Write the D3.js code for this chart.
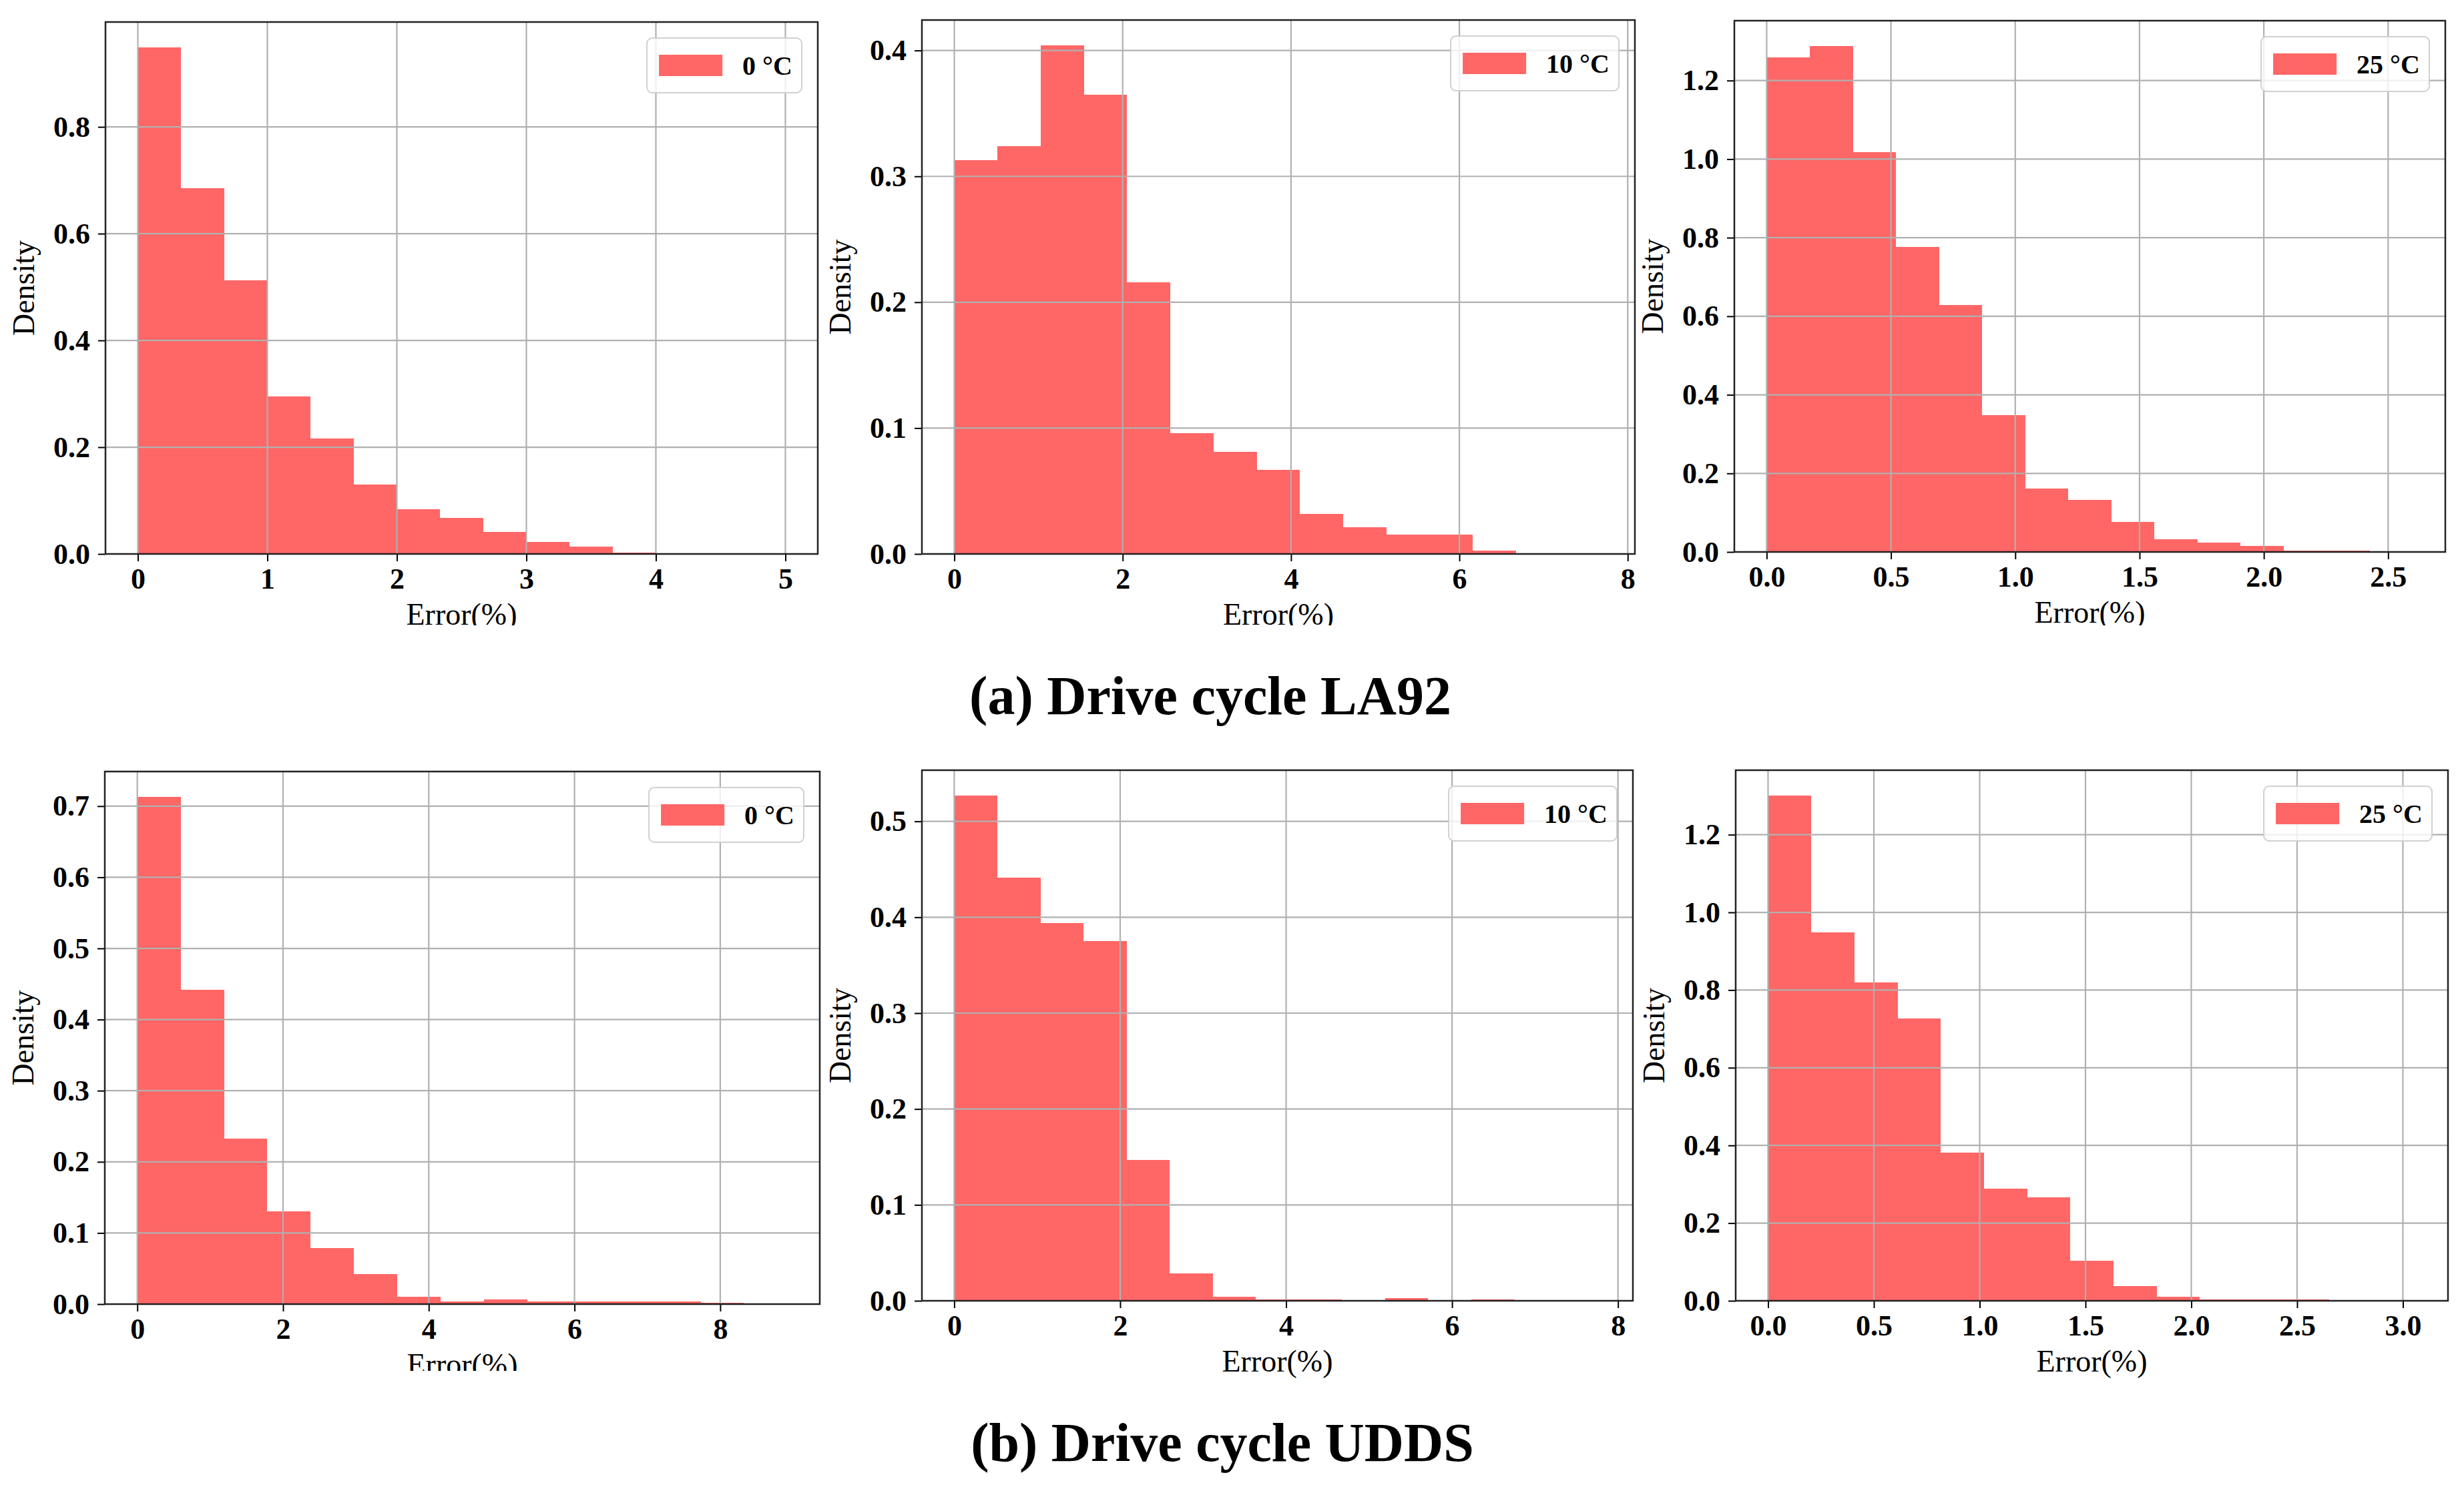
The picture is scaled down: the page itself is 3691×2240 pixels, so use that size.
<!DOCTYPE html>
<html>
<head>
<meta charset="utf-8">
<script src="https://cdn.jsdelivr.net/npm/d3@7"></script>
<style>
  body { margin: 0; background: #fff; }
  text { font-family: "Liberation Serif", "Times New Roman", serif; }
</style>
</head>
<body>
<svg id="fig" width="3691" height="2240"></svg>
<script>
// Textos
const temperaturas = ['0 °C', '10 °C', '25 °C'];
const titulos = ['(a) Drive cycle LA92', '(b) Drive cycle UDDS'];

// Densidade por bin (15 bins de 0 até o erro máximo)
const la92_0C  = [0.949, 0.685, 0.513, 0.295, 0.216, 0.130, 0.084, 0.068, 0.041, 0.022, 0.014, 0.002, 0, 0, 0.0006];
const la92_10C = [0.313, 0.324, 0.404, 0.365, 0.216, 0.096, 0.081, 0.067, 0.032, 0.021, 0.0155, 0.0155, 0.0026, 0, 0.0005];
const la92_25C = [1.259, 1.288, 1.018, 0.776, 0.629, 0.348, 0.161, 0.132, 0.077, 0.033, 0.023, 0.0155, 0.004, 0.004, 0.0005];
const udds_0C  = [0.713, 0.442, 0.233, 0.130, 0.079, 0.0424, 0.0103, 0.004, 0.0063, 0.004, 0.004, 0.004, 0.004, 0.002, 0.0005];
const udds_10C = [0.527, 0.441, 0.394, 0.375, 0.147, 0.0285, 0.0043, 0.0017, 0.0017, 0, 0.003, 0, 0.0017, 0, 0.0005];
const udds_25C = [1.301, 0.949, 0.820, 0.727, 0.381, 0.288, 0.266, 0.103, 0.037, 0.0105, 0.004, 0.004, 0.004, 0, 0.0005];

// Erro máximo de cada histograma (%)
const errMax_la92 = [5.0, 7.7, 2.6];
const errMax_udds = [8.92, 7.79, 3.06];

// Ticks
const xt_la92 = [[0, 1, 2, 3, 4, 5], [0, 2, 4, 6, 8], [0, 0.5, 1, 1.5, 2, 2.5]];
const yt_la92 = [[0, 0.2, 0.4, 0.6, 0.8], [0, 0.1, 0.2, 0.3, 0.4], [0, 0.2, 0.4, 0.6, 0.8, 1.0, 1.2]];
const xt_udds = [[0, 2, 4, 6, 8], [0, 2, 4, 6, 8], [0, 0.5, 1, 1.5, 2, 2.5, 3]];
const yt_udds = [[0, 0.1, 0.2, 0.3, 0.4, 0.5, 0.6, 0.7], [0, 0.1, 0.2, 0.3, 0.4, 0.5], [0, 0.2, 0.4, 0.6, 0.8, 1.0, 1.2]];

const svg = d3.select('#fig');
svg.append('rect').attr('width', 3691).attr('height', 2240).attr('fill', '#fff');

const corBarra = '#ff6666';
const corGrade = '#b0b0b0';
const fmtInt = d3.format('d');
const fmt1 = d3.format('.1f');

let nClip = 0;

function painel(cfg) {
  const [x0, y0, x1, y1] = cfg.box;
  const n = cfg.dens.length;
  const w = cfg.errMax / n;
  const bins = cfg.dens.map((d, k) => ({ a: k * w, b: (k + 1) * w, d: d }));

  const x = d3.scaleLinear().domain([-0.05 * cfg.errMax, 1.05 * cfg.errMax]).range([x0, x1]);
  const y = d3.scaleLinear().domain([0, 1.05 * d3.max(cfg.dens)]).range([y1, y0]);

  const g = svg.append('g');

  // barras
  g.selectAll('rect.barra').data(bins).enter().append('rect')
    .attr('class', 'barra')
    .attr('x', d => x(d.a))
    .attr('width', d => x(d.b) - x(d.a))
    .attr('y', d => y(d.d))
    .attr('height', d => y(0) - y(d.d))
    .attr('fill', corBarra)
    .attr('shape-rendering', 'crispEdges');

  // grade (por cima das barras, como no matplotlib)
  g.selectAll('line.gx').data(cfg.xt).enter().append('line')
    .attr('x1', d => x(d)).attr('x2', d => x(d))
    .attr('y1', y0).attr('y2', y1)
    .attr('stroke', corGrade).attr('stroke-width', 2.2);
  g.selectAll('line.gy').data(cfg.yt).enter().append('line')
    .attr('y1', d => y(d)).attr('y2', d => y(d))
    .attr('x1', x0).attr('x2', x1)
    .attr('stroke', corGrade).attr('stroke-width', 2.2);

  // eixos
  const eixoX = g.append('g').attr('transform', `translate(0,${y1})`)
    .call(d3.axisBottom(x).tickValues(cfg.xt).tickFormat(cfg.xfmt).tickSize(11).tickPadding(10));
  const eixoY = g.append('g').attr('transform', `translate(${x0},0)`)
    .call(d3.axisLeft(y).tickValues(cfg.yt).tickFormat(fmt1).tickSize(11).tickPadding(12));
  [eixoX, eixoY].forEach(e => {
    e.select('.domain').remove();
    e.selectAll('line').attr('stroke', '#000').attr('stroke-width', 2);
    e.selectAll('text')
      .attr('font-family', '"Liberation Serif", "Times New Roman", serif')
      .attr('font-size', 44).attr('font-weight', 'bold').attr('fill', '#000');
  });

  // moldura
  g.append('rect')
    .attr('x', x0).attr('y', y0).attr('width', x1 - x0).attr('height', y1 - y0)
    .attr('fill', 'none').attr('stroke', '#222').attr('stroke-width', 2.5);

  // rótulo do eixo x (cortado na borda inferior como na figura)
  const id = 'corte' + (nClip++);
  svg.append('clipPath').attr('id', id).append('rect')
    .attr('x', x0 - 200).attr('y', y1).attr('width', x1 - x0 + 400).attr('height', cfg.corte - y1);
  g.append('text')
    .attr('x', (x0 + x1) / 2).attr('y', y1 + 106)
    .attr('text-anchor', 'middle').attr('font-size', 46)
    .attr('clip-path', `url(#${id})`)
    .text('Error(%)');

  // rótulo do eixo y
  g.append('text')
    .attr('transform', `translate(${x0 - 107},${(y0 + y1) / 2}) rotate(-90)`)
    .attr('text-anchor', 'middle').attr('font-size', 46)
    .text('Density');

  // legenda
  const leg = g.append('g');
  const caixa = leg.append('rect');
  const txt = leg.append('text')
    .attr('font-size', 40).attr('font-weight', 'bold')
    .text(cfg.legenda);
  const tw = txt.node().getComputedTextLength();
  const bw = 18 + 95 + 30 + tw + 14, bh = 82;
  const bx = x1 - 24 - bw, by = y0 + 24;
  caixa.attr('x', bx).attr('y', by).attr('width', bw).attr('height', bh).attr('rx', 8)
    .attr('fill', '#fff').attr('fill-opacity', 0.8)
    .attr('stroke', '#d0d0d0').attr('stroke-width', 2);
  leg.append('rect')
    .attr('x', bx + 18).attr('y', by + 25).attr('width', 95).attr('height', 32)
    .attr('fill', corBarra);
  txt.attr('x', bx + 18 + 95 + 30).attr('y', by + 55);
}

// Linha (a) LA92
const caixasA = [[158, 33, 1225, 830], [1381, 30, 2449, 830], [2598, 31, 3663, 827]];
const densA = [la92_0C, la92_10C, la92_25C];
caixasA.forEach((b, i) => {
  painel({
    box: b, dens: densA[i], errMax: errMax_la92[i],
    xt: xt_la92[i], yt: yt_la92[i], xfmt: i === 2 ? fmt1 : fmtInt,
    legenda: temperaturas[i], corte: 937
  });
});

// Linha (b) UDDS
const caixasB = [[157, 1156, 1228, 1954], [1381, 1154, 2446, 1949], [2600, 1154, 3667, 1949]];
const densB = [udds_0C, udds_10C, udds_25C];
const cortesB = [2054, 2100, 2100];
caixasB.forEach((b, i) => {
  painel({
    box: b, dens: densB[i], errMax: errMax_udds[i],
    xt: xt_udds[i], yt: yt_udds[i], xfmt: i === 2 ? fmt1 : fmtInt,
    legenda: temperaturas[i], corte: cortesB[i]
  });
});

// Títulos das linhas
svg.append('text')
  .attr('x', 1813).attr('y', 1070)
  .attr('text-anchor', 'middle').attr('font-size', 82).attr('font-weight', 'bold')
  .text(titulos[0]);
svg.append('text')
  .attr('x', 1831).attr('y', 2189)
  .attr('text-anchor', 'middle').attr('font-size', 82).attr('font-weight', 'bold')
  .text(titulos[1]);
</script>
</body>
</html>
